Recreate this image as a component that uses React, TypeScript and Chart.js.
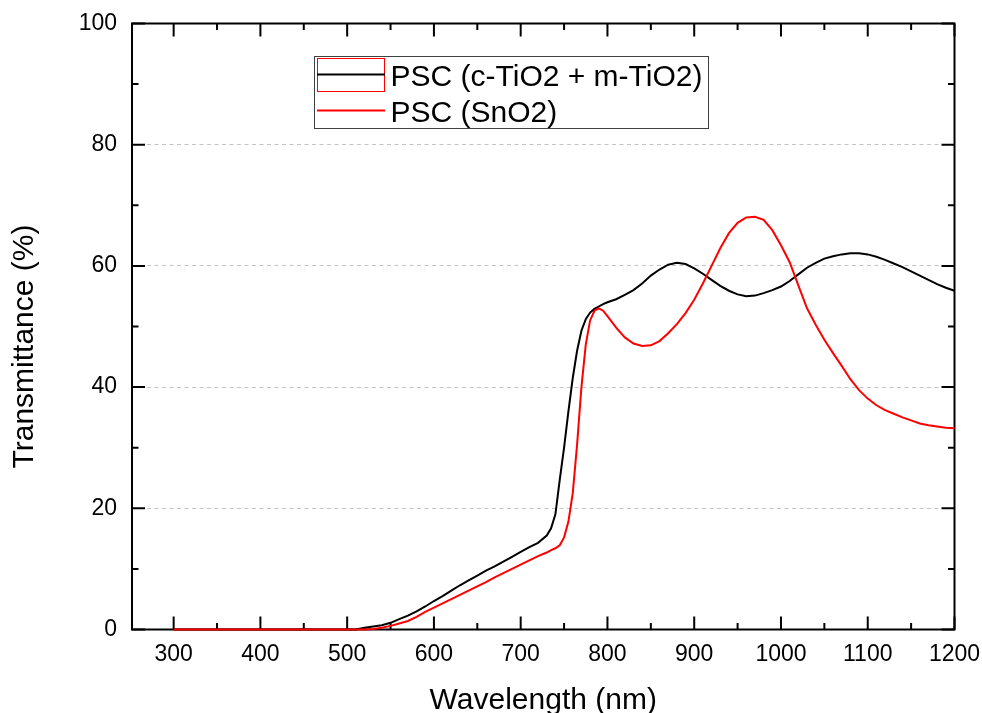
import React, { useEffect, useRef } from 'react';
import { Chart, registerables } from 'chart.js';

Chart.register(...registerables);

const wavelengths = [
  300, 350, 400, 450, 500, 510, 520, 530, 540, 550, 560, 570, 580, 590, 600, 610, 620, 630, 640, 650,
  660, 670, 680, 690, 700, 710, 720, 730, 735, 740, 745, 750, 755, 760, 765, 770, 775, 780, 785, 790,
  795, 800, 810, 820, 830, 840, 850, 860, 870, 880, 890, 900, 910, 920, 930, 940, 950, 960, 970, 980,
  990, 1000, 1010, 1020, 1030, 1040, 1050, 1060, 1070, 1080, 1090, 1100, 1110, 1120, 1130, 1140, 1150,
  1160, 1170, 1180, 1190, 1200,
];

const tio2Values = [
  0, 0, 0, 0, 0, 0, 0.3, 0.5, 0.7, 1.1, 1.7, 2.3, 3.0, 3.8, 4.7, 5.5, 6.4, 7.3, 8.1, 8.9,
  9.7, 10.4, 11.2, 12.0, 12.8, 13.6, 14.3, 15.5, 16.7, 19.0, 24.7, 30.0, 36.0, 41.5, 46.0, 49.3, 51.2, 52.3, 52.9, 53.3,
  53.7, 54.0, 54.5, 55.2, 56.0, 57.1, 58.4, 59.4, 60.2, 60.5, 60.3, 59.6, 58.7, 57.7, 56.7, 55.9, 55.3, 55.0, 55.1, 55.5,
  56.0, 56.6, 57.5, 58.6, 59.7, 60.5, 61.2, 61.6, 61.9, 62.1, 62.1, 61.9, 61.5, 61.0, 60.4, 59.8, 59.1,
  58.4, 57.7, 57.0, 56.4, 55.9,
];

const sno2Values = [
  0, 0, 0, 0, 0, 0, 0, 0.1, 0.3, 0.6, 1.0, 1.4, 2.1, 2.9, 3.6, 4.3, 5.0, 5.7, 6.4, 7.1,
  7.8, 8.6, 9.3, 10.0, 10.7, 11.4, 12.1, 12.7, 13.1, 13.4, 13.9, 15.2, 17.8, 22.5, 30.5, 40.0, 47.0, 51.0, 52.6, 53.0,
  52.6, 51.7, 49.8, 48.2, 47.2, 46.8, 46.9, 47.6, 48.9, 50.4, 52.2, 54.4, 57.1, 60.0, 62.9, 65.4, 67.1, 68.0, 68.1, 67.6,
  65.9, 63.4, 60.6, 56.8, 53.0, 50.3, 47.8, 45.6, 43.5, 41.3, 39.5, 38.1, 37.0, 36.2, 35.6, 35.0, 34.5,
  34.0, 33.7, 33.5, 33.3, 33.2,
];

const seriesLabels = ['PSC (c-TiO2 + m-TiO2)', 'PSC (SnO2)'];
const seriesColors = ['#000000', '#ff0000'];
const xTickValues = [300, 400, 500, 600, 700, 800, 900, 1000, 1100, 1200];
const xMinorValues = [350, 450, 550, 650, 750, 850, 950, 1050, 1150];
const yTickValues = [0, 20, 40, 60, 80, 100];
const yMinorValues = [10, 30, 50, 70, 90];
const xTitle = 'Wavelength (nm)';
const yTitle = 'Transmittance (%)';

const FONT = '"Liberation Sans", Arial, sans-serif';

const framePlugin = {
  id: 'frame',
  beforeDatasetsDraw(chart: any) {
    const { ctx, chartArea: a, scales } = chart;
    const x = scales.x;
    const y = scales.y;
    ctx.save();
    ctx.strokeStyle = '#000';
    ctx.lineWidth = 2;
    ctx.strokeRect(a.left, a.top, a.right - a.left, a.bottom - a.top);
    const drawX = (vals: number[], len: number) => {
      vals.forEach((v) => {
        const px = x.getPixelForValue(v);
        ctx.beginPath();
        ctx.moveTo(px, a.bottom);
        ctx.lineTo(px, a.bottom - len);
        ctx.moveTo(px, a.top);
        ctx.lineTo(px, a.top + len);
        ctx.stroke();
      });
    };
    const drawY = (vals: number[], len: number) => {
      vals.forEach((v) => {
        const py = y.getPixelForValue(v);
        ctx.beginPath();
        ctx.moveTo(a.left, py);
        ctx.lineTo(a.left + len, py);
        ctx.moveTo(a.right, py);
        ctx.lineTo(a.right - len, py);
        ctx.stroke();
      });
    };
    drawX(xTickValues, 13);
    drawX(xMinorValues, 6.5);
    drawY(yTickValues, 13);
    drawY(yMinorValues, 6.5);
    ctx.restore();
  },
};

const decorPlugin = {
  id: 'decor',
  afterDraw(chart: any) {
    const { ctx, chartArea: a } = chart;
    ctx.save();
    ctx.fillStyle = '#000';
    ctx.font = `30px ${FONT}`;
    ctx.textAlign = 'center';
    ctx.textBaseline = 'alphabetic';
    ctx.fillText(xTitle, (a.left + a.right) / 2, 708.5);
    ctx.save();
    ctx.translate(33.3, 346.5);
    ctx.rotate(-Math.PI / 2);
    ctx.fillText(yTitle, 0, 0);
    ctx.restore();

    const ds = chart.data.datasets;
    ctx.fillStyle = '#fff';
    ctx.fillRect(314, 56, 395, 72);
    ctx.strokeStyle = '#404040';
    ctx.lineWidth = 1;
    ctx.strokeRect(314.5, 56.5, 394, 72);
    ctx.strokeStyle = '#ff0000';
    ctx.strokeRect(317.5, 58.5, 67, 33);
    const rows = [74.5, 110.5];
    ctx.textAlign = 'left';
    ctx.font = `30px ${FONT}`;
    ds.forEach((d: any, i: number) => {
      ctx.strokeStyle = d.borderColor;
      ctx.lineWidth = 2;
      ctx.beginPath();
      ctx.moveTo(317, rows[i]);
      ctx.lineTo(385, rows[i]);
      ctx.stroke();
      ctx.fillStyle = '#000';
      ctx.fillText(d.label, 390.5, rows[i] + 11.5);
    });
    ctx.restore();
  },
};

// force the plot rectangle the reference uses
const areaPlugin = {
  id: 'area',
  afterLayout(chart: any) {
    const a = chart.chartArea;
    a.left = 132;
    a.right = 954.5;
    a.top = 23.5;
    a.bottom = 629.5;
    a.width = a.right - a.left;
    a.height = a.bottom - a.top;
    const x = chart.scales.x;
    const y = chart.scales.y;
    x.left = a.left; x.right = a.right; x.width = a.width;
    x.top = a.bottom; x.bottom = 713; x.height = 713 - a.bottom;
    y.top = a.top; y.bottom = a.bottom; y.height = a.height;
    y.left = 0; y.right = a.left; y.width = a.left;
    x.configure();
    y.configure();
  },
};

export default function App() {
  const ref = useRef<HTMLCanvasElement | null>(null);

  useEffect(() => {
    if (!ref.current) return;
    Chart.defaults.font.family = FONT;
    const chart = new Chart(ref.current, {
      type: 'line',
      data: {
        datasets: [
          {
            label: seriesLabels[0],
            data: wavelengths.map((w, i) => ({ x: w, y: tio2Values[i] })),
            borderColor: seriesColors[0],
            borderWidth: 2,
            pointRadius: 0,
            tension: 0,
            clip: false as any,
            order: 2,
          },
          {
            label: seriesLabels[1],
            data: wavelengths.map((w, i) => ({ x: w, y: sno2Values[i] })),
            borderColor: seriesColors[1],
            borderWidth: 2,
            pointRadius: 0,
            tension: 0,
            clip: false as any,
            order: 1,
          },
        ],
      },
      options: {
        animation: false,
        responsive: false,
        devicePixelRatio: 1,
        layout: { padding: 0 },
        plugins: { legend: { display: false }, tooltip: { enabled: false } },
        scales: {
          x: {
            type: 'linear',
            min: 252,
            max: 1200,
            afterBuildTicks: (s: any) => {
              s.ticks = xTickValues.map((value) => ({ value }));
            },
            grid: { display: false, drawTicks: false },
            border: { display: false },
            ticks: {
              padding: 11,
              color: '#000',
              font: { size: 23, family: FONT },
              maxRotation: 0,
              autoSkip: false,
              callback: (v: any) => String(v),
            },
          },
          y: {
            type: 'linear',
            min: 0,
            max: 100,
            afterBuildTicks: (s: any) => {
              s.ticks = yTickValues.map((value) => ({ value }));
            },
            grid: {
              drawTicks: false,
              lineWidth: 1,
              color: (c: any) => (c.tick && (c.tick.value === 0 || c.tick.value === 100) ? 'rgba(0,0,0,0)' : '#c4c4c4'),
            },
            border: { display: false, dash: [4, 3.5] },
            ticks: { padding: 15, color: '#000', font: { size: 23, family: FONT }, callback: (v: any) => String(v) },
          },
        },
      },
      plugins: [areaPlugin, framePlugin, decorPlugin],
    } as any);
    return () => chart.destroy();
  }, []);

  return (
    <div style={{ position: 'fixed', left: 0, top: 0, width: 982, height: 713, background: '#fff' }}>
      <canvas ref={ref} width={982} height={713} style={{ display: 'block' }} />
    </div>
  );
}
